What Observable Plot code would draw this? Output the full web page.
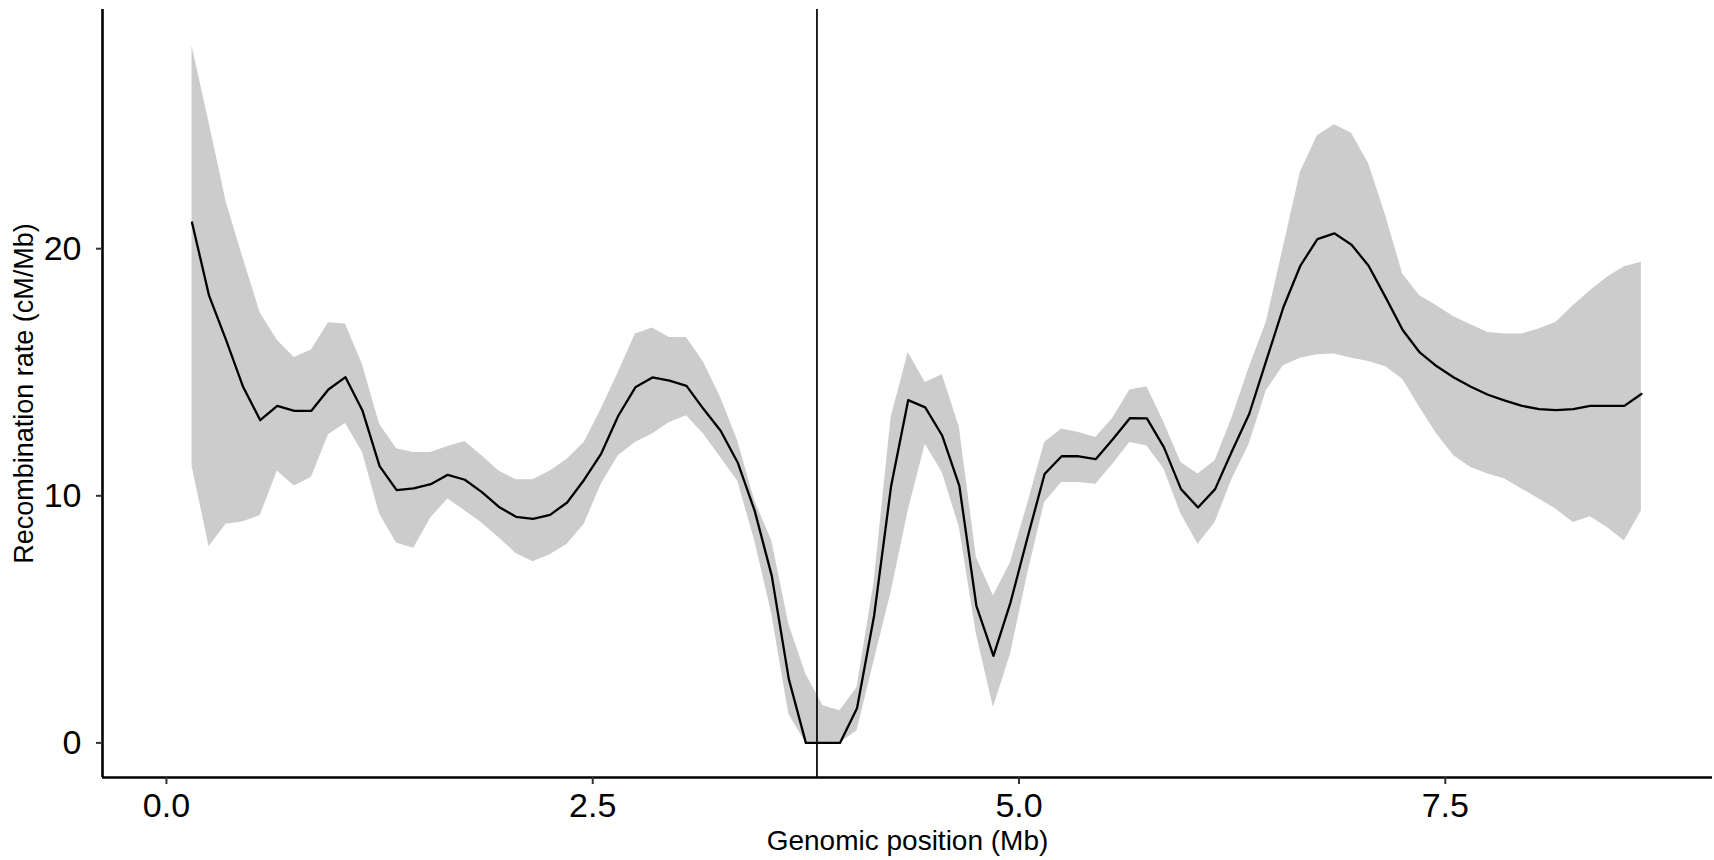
<!DOCTYPE html>
<html>
<head>
<meta charset="utf-8">
<script src="https://cdn.jsdelivr.net/npm/d3@7"></script>
<script src="https://cdn.jsdelivr.net/npm/@observablehq/plot@0.6"></script>
<style>
  html, body { margin: 0; padding: 0; background: #fff; }
  #chart { width: 1714px; height: 860px; }
</style>
</head>
<body>
<div id="chart"></div>
<script>
// Genomic position (Mb)
const position = [0.15,0.25,0.35,0.45,0.55,0.65,0.75,0.85,0.95,1.05,1.15,1.25,1.35,1.45,1.55,1.65,1.75,1.85,1.95,2.05,2.15,2.25,2.35,2.45,2.55,2.65,2.75,2.85,2.95,3.05,3.15,3.25,3.35,3.45,3.55,3.65,3.75,3.85,3.95,4.05,4.15,4.25,4.35,4.45,4.55,4.65,4.75,4.85,4.95,5.05,5.15,5.25,5.35,5.45,5.55,5.65,5.75,5.85,5.95,6.05,6.15,6.25,6.35,6.45,6.55,6.65,6.75,6.85,6.95,7.05,7.15,7.25,7.35,7.45,7.55,7.65,7.75,7.85,7.95,8.05,8.15,8.25,8.35,8.45,8.55,8.65];
// Recombination rate estimate (cM/Mb)
const rate = [21.06,18.1,16.3,14.4,13.06,13.64,13.44,13.44,14.3,14.8,13.44,11.2,10.23,10.3,10.47,10.85,10.65,10.15,9.55,9.15,9.07,9.23,9.73,10.65,11.71,13.24,14.39,14.79,14.66,14.45,13.51,12.63,11.35,9.39,6.76,2.58,0,0,0,1.4,5.14,10.4,13.87,13.58,12.43,10.4,5.55,3.52,5.68,8.31,10.88,11.6,11.6,11.48,12.29,13.14,13.13,11.96,10.27,9.53,10.27,11.82,13.31,15.47,17.62,19.31,20.39,20.62,20.16,19.31,18.03,16.71,15.8,15.24,14.79,14.41,14.09,13.85,13.64,13.51,13.47,13.51,13.64,13.64,13.64,14.12];
// Upper bound of interval
const upper = [28.2,25.1,21.9,19.6,17.4,16.3,15.6,15.9,17.0,16.95,15.3,12.9,11.9,11.75,11.75,12.0,12.2,11.62,11.0,10.65,10.65,11.0,11.48,12.16,13.51,14.99,16.55,16.79,16.41,16.41,15.4,13.98,12.23,9.8,8.18,4.8,2.78,1.5,1.3,2.24,6.5,13.17,15.8,14.59,14.9,12.77,7.5,5.95,7.3,9.66,12.16,12.7,12.56,12.36,13.14,14.28,14.41,12.97,11.35,10.88,11.42,13.17,15.19,17.02,20.05,23.09,24.57,25.02,24.67,23.45,21.34,18.98,18.1,17.69,17.25,16.92,16.61,16.55,16.55,16.75,17.02,17.69,18.3,18.84,19.27,19.45];
// Lower bound of interval
const lower = [11.2,7.95,8.85,8.95,9.2,11.0,10.4,10.74,12.47,12.93,11.75,9.26,8.08,7.88,9.1,9.87,9.4,8.9,8.3,7.67,7.33,7.61,8.04,8.85,10.47,11.62,12.16,12.5,12.97,13.24,12.5,11.55,10.6,8.18,5.21,1.16,0,0,0,0.49,3.3,6.1,9.39,12.09,10.94,8.72,4.4,1.43,3.59,6.83,9.73,10.54,10.54,10.47,11.28,12.16,12.02,11.08,9.26,8.04,8.92,10.68,12.09,14.25,15.26,15.57,15.71,15.74,15.57,15.44,15.22,14.72,13.57,12.5,11.62,11.15,10.88,10.68,10.27,9.87,9.46,8.92,9.15,8.72,8.18,9.39];
// Centromere position (Mb)
const centromere = [3.815];
const xTicks = [0, 2.5, 5, 7.5];
const yTicks = [0, 10, 20];
const xTitle = "Genomic position (Mb)";
const yTitle = "Recombination rate (cM/Mb)";

const data = position.map((p, i) => ({pos: p, rate: rate[i], lo: lower[i], hi: upper[i]}));
const xDomain = [-0.375, 9.067];
const yDomain = [-1.40, 29.68];

const chart = Plot.plot({
  width: 1714,
  height: 860,
  marginLeft: 102,
  marginRight: 2,
  marginTop: 9,
  marginBottom: 83,
  style: {fontFamily: "'Liberation Sans', Arial, Helvetica, sans-serif", background: "#fff", color: "black"},
  x: {domain: xDomain},
  y: {domain: yDomain},
  marks: [
    Plot.areaY(data, {x: "pos", y1: "lo", y2: "hi", fill: "#cccccc"}),
    Plot.line(data, {x: "pos", y: "rate", stroke: "black", strokeWidth: 2.3}),
    Plot.ruleX(centromere, {stroke: "black", strokeWidth: 1.7}),
    Plot.ruleY([yDomain[0]], {stroke: "black", strokeWidth: 2.6}),
    Plot.ruleX([xDomain[0]], {stroke: "black", strokeWidth: 2.6}),
    Plot.axisX({ticks: xTicks, tickFormat: d3.format(".1f"), tickSize: 7, tickPadding: 8, fontSize: 34, stroke: "#333333", strokeWidth: 2, fill: "black", label: null}),
    Plot.axisY({ticks: yTicks, tickFormat: d3.format("d"), tickSize: 6, tickPadding: 15, fontSize: 34, stroke: "#333333", strokeWidth: 2, fill: "black", label: null}),
    Plot.text([xTitle], {frameAnchor: "bottom", dy: 72, fontSize: 28, fill: "black"}),
    Plot.text([yTitle], {frameAnchor: "left", textAnchor: "middle", rotate: -90, dx: -78, fontSize: 27, fill: "black"})
  ]
});
document.getElementById("chart").appendChild(chart);
</script>
</body>
</html>
